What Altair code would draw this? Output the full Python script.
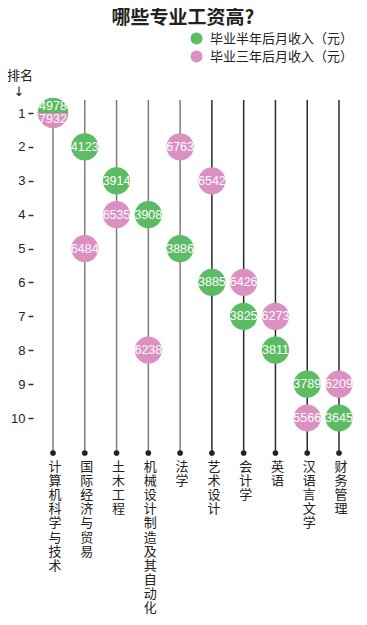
import math
import altair as alt
import pandas as pd

# ---- data ----
majors = ["计算机科学与技术", "国际经济与贸易", "土木工程", "机械设计制造及其自动化", "法学",
          "艺术设计", "会计学", "英语", "汉语言文学", "财务管理"]
half_rank = [1, 2, 3, 4, 5, 6, 7, 8, 9, 10]
half_pay = [4978, 4123, 3914, 3908, 3886, 3885, 3825, 3811, 3789, 3645]
three_rank = [1, 5, 4, 8, 2, 3, 6, 7, 10, 9]
three_pay = [7932, 6484, 6535, 6238, 6763, 6542, 6426, 6273, 5566, 6209]
series_names = ["毕业半年后月收入（元）", "毕业三年后月收入（元）"]
rank_ticks = list(range(1, 11))
title_text = ["哪些专业工资高?"]
rank_title = ["排名"]
arrow_text = ["↓"]

CJK = "Noto Sans CJK SC"
LAT = "Liberation Sans"
GREEN = "#5cbc63"
PINK = "#dc90c2"

rows = []
for i, m in enumerate(majors):
    shared = half_rank[i] == three_rank[i]
    rows.append(dict(major=m, idx=i, series=series_names[0], rank=half_rank[i], pay=half_pay[i], shared=shared))
    rows.append(dict(major=m, idx=i, series=series_names[1], rank=three_rank[i], pay=three_pay[i], shared=shared))
df = pd.DataFrame(rows)
maj_df = pd.DataFrame({"major": majors, "idx": list(range(len(majors)))})

xenc = alt.X("major:N", sort=majors,
             scale=alt.Scale(type="point", domain=majors, range=[45, 331], padding=0), axis=None)
yscale = alt.Scale(domain=[1, 10], range=[105, 410], zero=False, nice=False)
yenc = alt.Y("rank:Q", scale=yscale,
             axis=alt.Axis(values=rank_ticks, offset=-25, tickSize=5, tickWidth=1.5,
                           tickColor="#333", labelFont=LAT, labelFontSize=13,
                           labelColor="#222", labelPadding=3, domain=False, grid=False,
                           title=None, format="d"))
color = alt.Color("series:N", scale=alt.Scale(domain=series_names, range=[GREEN, PINK]),
                  legend=alt.Legend(orient="none", legendX=182, legendY=24, title=None,
                                    symbolType="circle", symbolSize=145, symbolStrokeWidth=0,
                                    labelFont=CJK, labelFontSize=13, labelColor="#222",
                                    labelOffset=7, rowPadding=4, padding=0))

base_maj = alt.Chart(maj_df)

rules = base_maj.mark_rule(strokeWidth=1.5).encode(
    x=xenc, y=alt.value(92), y2=alt.value(445),
    color=alt.condition("datum.idx < 5", alt.value("#7d7d7d"), alt.value("#2a2a2a")))

dots = base_maj.mark_circle(size=32, opacity=1, color="#222").encode(x=xenc, y=alt.value(445))

labels = base_maj.mark_text(font=CJK, fontSize=13, baseline="top", align="center",
                            lineHeight=14.1, color="#222", dx=2).transform_calculate(
    chars="split(datum.major, '')").encode(x=xenc, y=alt.value(453), text="chars:N")

base = alt.Chart(df)

circles = base.mark_circle(size=740, opacity=1).transform_filter("!datum.shared").encode(
    x=xenc, y=yenc, color=color)

arc_top = base.mark_arc(radius=15.3, theta=1.5 * math.pi, theta2=2.5 * math.pi).transform_filter(
    f"datum.shared && datum.series == '{series_names[0]}'").encode(x=xenc, y=yenc, color=color)
arc_bot = base.mark_arc(radius=15.3, theta=0.5 * math.pi, theta2=1.5 * math.pi).transform_filter(
    f"datum.shared && datum.series == '{series_names[1]}'").encode(x=xenc, y=yenc, color=color)

txt_enc = dict(x=xenc, y=yenc, text=alt.Text("pay:Q", format="d"))
values = base.mark_text(color="white", font=LAT, fontSize=12.5, baseline="middle").transform_filter(
    "!datum.shared").encode(**txt_enc)
values_top = base.mark_text(color="white", font=LAT, fontSize=12.5, baseline="middle", dy=-7).transform_filter(
    f"datum.shared && datum.series == '{series_names[0]}'").encode(**txt_enc)
values_bot = base.mark_text(color="white", font=LAT, fontSize=12.5, baseline="middle", dy=6).transform_filter(
    f"datum.shared && datum.series == '{series_names[1]}'").encode(**txt_enc)

title = alt.Chart(pd.DataFrame({"t": title_text})).mark_text(
    font=CJK, fontSize=19, fontWeight="bold", color="#222", baseline="middle").encode(
    x=alt.value(175), y=alt.value(10), text="t:N")
rank_lbl = alt.Chart(pd.DataFrame({"t": rank_title})).mark_text(
    font=CJK, fontSize=13, color="#222", baseline="middle").encode(
    x=alt.value(12), y=alt.value(68), text="t:N")
arrow = alt.Chart(pd.DataFrame({"t": arrow_text})).mark_text(
    font="DejaVu Sans", fontSize=13, color="#222", baseline="middle").encode(
    x=alt.value(11), y=alt.value(84), text="t:N")

chart = alt.layer(rules, dots, labels, circles, arc_top, arc_bot, values, values_top, values_bot,
                  title, rank_lbl, arrow).properties(
    width=351, height=609, autosize=alt.AutoSizeParams(type="none"), padding=0
).configure_view(stroke=None)

chart.save("out.html", embed_options={"renderer": "svg", "actions": False})
